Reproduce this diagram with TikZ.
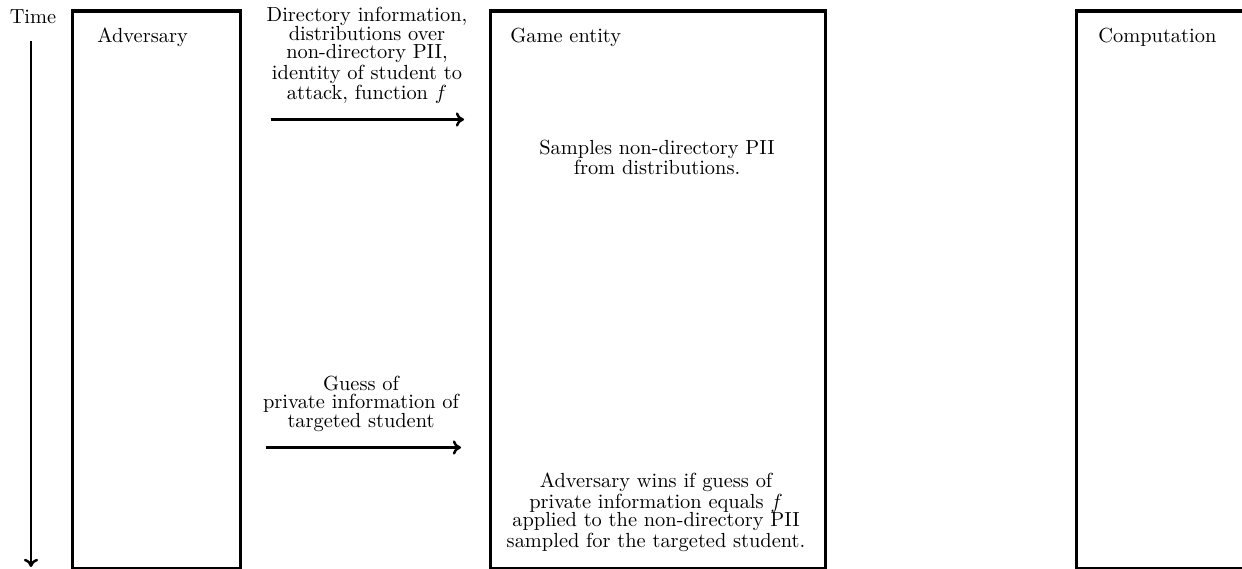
\documentclass[tikz,border=0pt]{standalone}
\usetikzlibrary{arrows.meta}
\begin{document}
\begin{tikzpicture}[x=0.49pt,y=-0.49pt,
  lane/.style={draw, line width=1.5pt, inner sep=0pt, anchor=north west},
  title/.style={inner sep=0pt, anchor=base west},
  msg/.style={inner sep=0pt, anchor=north, align=center,
    font=\fontsize{10}{9}\selectfont},
  flow/.style={line width=1.2pt, -{To[length=4pt,width=7pt]}}]
\useasboundingbox (0,0) rectangle (1242,569);
\clip (0,0) rectangle (1242,569);

% swim lanes
\node[lane, minimum width=168*0.49pt, minimum height=557*0.49pt] (adv) at (71,9.5) {};
\node[lane, minimum width=335*0.49pt, minimum height=557*0.49pt] (game) at (489,9.5) {};
\node[lane, minimum width=200*0.49pt, minimum height=557*0.49pt] (comp) at (1075,9.5) {};

\node[title] (advt) at (97,42.5) {Adversary};
\node[title] (gamet) at (510,42.5) {Game entity};
\node[title] (compt) at (1098,42.5) {Computation};

% time axis
\node[inner sep=0pt, anchor=base] (time) at (33,24) {Time};
\coordinate (t0) at (31,41);
\coordinate (t1) at (31,567);
\draw[flow] (t0) -- (t1);

% messages from the adversary to the game entity
\node[msg] (m1) at (367,7) {Directory information,\\ distributions over\\ non-directory PII,\\ identity of student to\\ attack, function $f$};
\coordinate (a0) at (270.5,119.5);
\coordinate (a1) at (464,119.5);
\draw[flow] (a0) -- (a1);

\node[msg] (m2) at (361,375.5) {Guess of\\ private information of\\ targeted student};
\coordinate (b0) at (266,447.5);
\coordinate (b1) at (461,447.5);
\draw[flow] (b0) -- (b1);

% steps taken by the game entity
\node[msg] (s1) at (657,139.5) {Samples non-directory PII\\ from distributions.};
\node[msg] (s2) at (656,472.5) {Adversary wins if guess of\\ private information equals $f$\\ applied to the non-directory PII\\ sampled for the targeted student.};
\end{tikzpicture}
\end{document}
